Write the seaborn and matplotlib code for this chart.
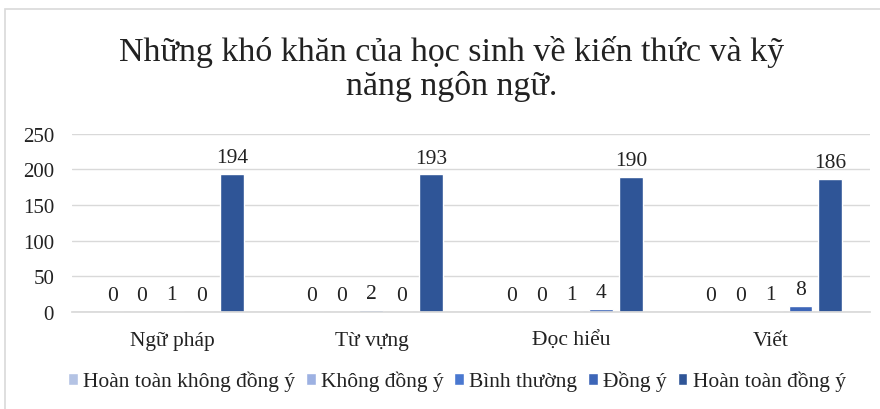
import pandas as pd
import seaborn as sns
import matplotlib.pyplot as plt
from matplotlib.patches import Rectangle

categories = ['Ngữ pháp', 'Từ vựng', 'Đọc hiểu', 'Viết']
levels = ['Hoàn toàn không đồng ý', 'Không đồng ý', 'Bình thường', 'Đồng ý', 'Hoàn toàn đồng ý']
hoan_toan_khong = [0, 0, 0, 0]
khong_dong_y = [0, 0, 0, 0]
binh_thuong = [1, 2, 1, 1]
dong_y = [0, 0, 4, 8]
hoan_toan_dong_y = [194, 193, 190, 186]
colors = ['#b4c3e4', '#9db1e2', '#4a78d0', '#3d66b8', '#2f5597']

series = [hoan_toan_khong, khong_dong_y, binh_thuong, dong_y, hoan_toan_dong_y]
rows = []
for lvl, vals in zip(levels, series):
    for cat, v in zip(categories, vals):
        rows.append({'cat': cat, 'level': lvl, 'value': v})
df = pd.DataFrame(rows)

sns.set_theme(style='white')
plt.rcParams['font.family'] = ['Liberation Serif', 'DejaVu Serif']

fig = plt.figure(figsize=(8.8, 4.1), dpi=100)
ax = fig.add_axes([0.082, 0.237, 0.907, 0.434])

sns.barplot(data=df, x='cat', y='value', hue='level', order=categories,
            hue_order=levels, palette=colors, width=0.75, gap=0.2,
            saturation=1, ax=ax, legend=True)

for cont in ax.containers:
    ax.bar_label(cont, fmt='%d', padding=5, fontsize=15.5, color='#222222')

ax.set_ylim(0, 250)
ax.set_yticks([0, 50, 100, 150, 200, 250])
ax.set_xlim(-0.5, 3.5)
ax.yaxis.grid(True, color='#d9d9d9', linewidth=1)
ax.set_axisbelow(True)
for s in ['top', 'right', 'left']:
    ax.spines[s].set_visible(False)
ax.spines['bottom'].set_color('#d9d9d9')
ax.tick_params(axis='y', labelsize=15, colors='#222222', length=0, pad=13)
ax.tick_params(axis='x', labelsize=15.5, colors='#222222', length=0, pad=14)
ax.set_xlabel('')
ax.set_ylabel('')

ax.legend(loc='center', bbox_to_anchor=(0.482, -0.39), ncol=5, frameon=False,
          fontsize=15.5, handlelength=0.45, handleheight=0.45, handletextpad=0.25,
          columnspacing=0.5, labelcolor='#222222')

fig.text(0.513, 0.832, 'Những khó khăn của học sinh về kiến thức và kỹ\nnăng ngôn ngữ.',
         ha='center', va='center', fontsize=24.5, color='#222222', linespacing=1.15)

fig.patches.append(Rectangle((0.006, -0.01), 1.0, 0.985, transform=fig.transFigure,
                             fill=False, edgecolor='#d9d9d9', linewidth=1.2))

fig.savefig('out.png', dpi=100)
